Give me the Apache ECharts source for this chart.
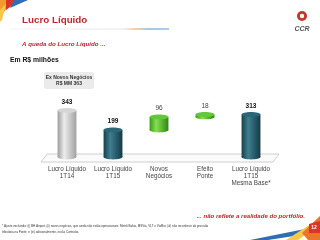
<!DOCTYPE html>
<html>
<head>
<meta charset="utf-8">
<script src="https://cdn.jsdelivr.net/npm/echarts@6/dist/echarts.min.js"></script>
<style>
  html, body { margin: 0; padding: 0; background: #fff; }
  #chart { width: 320px; height: 240px; }
</style>
</head>
<body>
<div id="chart"></div>
<script>
const categories = ['Lucro Líquido\n1T14', 'Lucro Líquido\n1T15', 'Novos\nNegócios', 'Efeito\nPonte', 'Lucro Líquido\n1T15\nMesma Base*']
const values = [343, 199, 96, 18, 313]
const bases = [0, 0, 199, 295, 0]
const barKinds = ['gray', 'teal', 'green', 'green', 'teal']
const labelBold = [true, true, false, false, true]

const FONT = 'Liberation Sans, Arial, sans-serif'

const PALETTE = {
  gray: { l: '#9c9c9c', m: '#ececec', r: '#a2a2a2', top: '#d6d6d6' },
  teal: { l: '#173f4b', m: '#3e7f90', r: '#143a45', top: '#2d6677' },
  green: { l: '#3a9a1c', m: '#86e04f', r: '#2f8514', top: '#62c83a' },
}

const chart = echarts.init(document.getElementById('chart'))

const cylinderData = values.map((v, i) => [i, bases[i], bases[i] + v, v])

const option = {
  backgroundColor: '#fff',
  animation: false,
  textStyle: { fontFamily: FONT },
  grid: { left: 44, right: 46, top: 100, bottom: 78 },
  xAxis: {
    type: 'category',
    data: categories,
    axisLine: { show: false },
    axisTick: { show: true, length: 2, lineStyle: { color: '#c8c8c8' } },
    axisLabel: { color: '#444', fontSize: 6.3, lineHeight: 7, margin: 4, fontFamily: FONT, interval: 0 },
  },
  yAxis: { type: 'value', min: -37, max: 420, show: false },
  graphic: [
    // top-left swoosh
    { type: 'polygon', shape: { points: [[0, 0], [14, 0], [4, 12], [0, 18]] }, style: { fill: '#f29a2e' } },
    { type: 'polygon', shape: { points: [[6, 0], [20, 0], [6, 10]] }, style: { fill: '#d9362b' } },
    { type: 'polygon', shape: { points: [[14, 0], [28, 0], [10, 8]] }, style: { fill: '#2f6db5' } },
    { type: 'polygon', shape: { points: [[0, 10], [6, 4], [2, 20], [0, 22]] }, style: { fill: '#f7c948' } },
    // title
    { type: 'text', left: 22, top: 15, style: { text: 'Lucro Líquido', fill: '#c0272d', font: 'bold 9.8px ' + FONT } },
    {
      type: 'line', shape: { x1: 10, y1: 29, x2: 169, y2: 29 },
      style: {
        lineWidth: 1,
        stroke: new echarts.graphic.LinearGradient(0, 0, 1, 0, [
          { offset: 0, color: '#f4f4f4' }, { offset: 0.7, color: '#e6e6e6' },
          { offset: 0.78, color: '#f2a23a' }, { offset: 0.86, color: '#4d8fd1' }, { offset: 1, color: '#5a9ad8' },
        ]),
      },
    },
    // CCR logo
    { type: 'circle', shape: { cx: 302, cy: 16, r: 5 }, style: { fill: '#c9342a' } },
    { type: 'circle', shape: { cx: 302, cy: 16, r: 2.2 }, style: { fill: '#fff' } },
    { type: 'text', x: 302, y: 29, style: { text: 'CCR', fill: '#555', font: 'italic bold 7px ' + FONT, align: 'center', verticalAlign: 'middle' } },
    // subtitles
    { type: 'text', left: 22, top: 41, style: { text: 'A queda do Lucro Líquido ...', fill: '#c0272d', font: 'italic bold 6.2px ' + FONT } },
    { type: 'text', left: 10, top: 56.5, style: { text: 'Em R$ milhões', fill: '#111', font: 'bold 6.8px ' + FONT } },
    // box
    { type: 'rect', shape: { x: 44, y: 72, width: 50, height: 17, r: 2 }, style: { fill: '#ebebeb' } },
    { type: 'text', x: 69, y: 77.5, style: { text: 'Ex Novos Negócios', fill: '#333', font: 'bold 5px ' + FONT, align: 'center', verticalAlign: 'middle' } },
    { type: 'text', x: 69, y: 84, style: { text: 'R$ MM 363', fill: '#333', font: 'bold 5px ' + FONT, align: 'center', verticalAlign: 'middle' } },
    // bottom message
    { type: 'text', right: 15, top: 213, style: { text: '... não reflete a realidade do portfólio.', fill: '#c0272d', font: 'italic bold 6.1px ' + FONT } },
    // footnote
    { type: 'text', left: 2, top: 225, style: { text: '* Ajuste excluindo: (i) BH Airport, (ii) novos negócios, que ainda não estão operacionais: Metrô Bahia, MSVia, VLT e ViaRio; (iii) não reconhece da provisão', fill: '#333', font: '3px ' + FONT } },
    { type: 'text', left: 2, top: 231, style: { text: 'tributária na Ponte; e (iv) adicionalmente, exclui Controlar.', fill: '#333', font: '3px ' + FONT } },
    // bottom-right swoosh
    { type: 'polygon', shape: { points: [[250, 240], [320, 226], [320, 232], [268, 240]] }, style: { fill: '#2f6db5' } },
    { type: 'polygon', shape: { points: [[286, 240], [320, 218], [320, 225], [298, 240]] }, style: { fill: '#f7c948' } },
    { type: 'polygon', shape: { points: [[302, 233], [320, 216], [320, 240], [308, 240]] }, style: { fill: '#e9762b' } },
    { type: 'polygon', shape: { points: [[309, 224], [320, 221], [320, 233], [309, 233]] }, style: { fill: '#d9362b' } },
    { type: 'text', x: 314, y: 228, style: { text: '12', fill: '#fff', font: 'bold 5px ' + FONT, align: 'center', verticalAlign: 'middle' } },
  ],
  series: [
    {
      // floor platform
      type: 'custom',
      silent: true,
      z: 1,
      data: [[0]],
      renderItem: (params, api) => {
        const bw = api.size([1, 0])[0]
        const first = api.coord([0, -37])
        const last = api.coord([categories.length - 1, -37])
        const xl = first[0] - bw / 2 - 3
        const xr = last[0] + bw / 2 - 1
        const yf = first[1]
        const yb = yf - 8
        return {
          type: 'polygon',
          shape: { points: [[xl, yf], [xl + 6, yb], [xr + 6, yb], [xr, yf]] },
          style: { fill: '#fbfbfb', stroke: '#c4c4c4', lineWidth: 0.8 },
        }
      },
    },
    {
      type: 'custom',
      z: 3,
      data: cylinderData,
      encode: { x: 0, y: [1, 2] },
      renderItem: (params, api) => {
        const i = api.value(0)
        const lo = api.coord([i, api.value(1)])
        const hi = api.coord([i, api.value(2)])
        const w = api.size([1, 0])[0] * 0.41
        const rx = w / 2
        const ry = 2.4
        const c = PALETTE[barKinds[i]]
        const body = new echarts.graphic.LinearGradient(0, 0, 1, 0, [
          { offset: 0, color: c.l }, { offset: 0.35, color: c.m }, { offset: 1, color: c.r },
        ])
        return {
          type: 'group',
          children: [
            { type: 'ellipse', shape: { cx: lo[0], cy: lo[1], rx, ry }, style: { fill: body } },
            { type: 'rect', shape: { x: lo[0] - rx, y: hi[1], width: w, height: lo[1] - hi[1] }, style: { fill: body } },
            { type: 'ellipse', shape: { cx: hi[0], cy: hi[1], rx, ry }, style: { fill: c.top } },
            {
              type: 'text',
              style: {
                text: String(api.value(3)),
                x: hi[0], y: hi[1] - ry - 2.5,
                align: 'center', verticalAlign: 'bottom',
                fill: labelBold[i] ? '#111' : '#444',
                font: (labelBold[i] ? 'bold ' : '') + '6.5px ' + FONT,
              },
            },
          ],
        }
      },
    },
  ],
}

chart.setOption(option)
</script>
</body>
</html>
